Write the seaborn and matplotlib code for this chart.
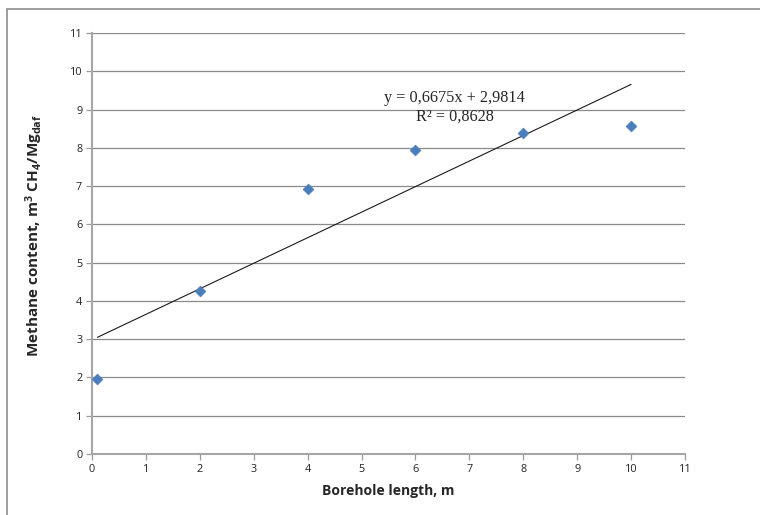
import numpy as np
import pandas as pd
import matplotlib
matplotlib.use("Agg")
import matplotlib.pyplot as plt
import seaborn as sns
from matplotlib.patches import Rectangle

# Data
borehole_length = [0.1, 2, 4, 6, 8, 10]
methane_content = [1.95, 4.25, 6.92, 7.93, 8.38, 8.57]

# Trendline as reported on the chart
slope = 0.6675
intercept = 2.9814
r_squared = "0,8628"
equation_text = "y = 0,6675x + 2,9814\nR² = " + r_squared

x_ticks = list(range(0, 12))
y_ticks = list(range(0, 12))

df = pd.DataFrame({"length": borehole_length, "methane": methane_content})

sns.set_style("white")
plt.rcParams['font.family'] = ['Open Sans', 'DejaVu Sans']
plt.rcParams['mathtext.fontset'] = 'custom'
plt.rcParams['mathtext.rm'] = 'Open Sans:bold'
plt.rcParams['mathtext.it'] = 'Open Sans:bold'
plt.rcParams['mathtext.bf'] = 'Open Sans:bold'

fig = plt.figure(figsize=(7.6, 5.15), dpi=100)
ax = fig.add_axes([92 / 760, 61 / 515, 593 / 760, 421 / 515])

# outer chart frame (cut off at right and bottom)
fig.patches.append(Rectangle((7 / 760, -0.05), 1.1, 1 - 9 / 515 + 0.05,
                             transform=fig.transFigure, fill=False,
                             edgecolor="#8c8c8c", linewidth=1.2))

# horizontal gridlines
for yv in y_ticks[1:]:
    ax.axhline(yv, color="#8a8a8a", linewidth=0.9, zorder=0)

# trendline
x_fit = np.array([min(borehole_length), max(borehole_length)])
ax.plot(x_fit, slope * x_fit + intercept, color="#1a1a1a", linewidth=0.8, zorder=2)

sns.scatterplot(data=df, x="length", y="methane", marker="D", s=30,
                color="#4a7ebb", edgecolor="#4a7ebb", linewidth=0.5, ax=ax, zorder=3)

ax.text(6.73, 9.05, equation_text, ha="center", va="center", multialignment="center",
        fontsize=11.7, family="Liberation Serif", linespacing=1.2)

ax.set_xlim(0, 11)
ax.set_ylim(0, 11)
ax.set_xticks(x_ticks)
ax.set_yticks(y_ticks)
ax.tick_params(axis="both", labelsize=7.8, colors="#333333", length=4,
               width=0.9, direction="out", bottom=True, left=True, pad=3)
for lab in ax.get_xticklabels() + ax.get_yticklabels():
    lab.set_color("#222222")
ax.tick_params(axis="both", color="#9a9a9a")

for side in ["top", "right"]:
    ax.spines[side].set_visible(False)
for side in ["left", "bottom"]:
    ax.spines[side].set_color("#a6a6a6")
    ax.spines[side].set_linewidth(1.5)

ax.set_xlabel("Borehole length, m", fontsize=10, fontweight="bold", labelpad=7)
ax.set_ylabel(r"Methane content, m$^{3}$ CH$_{4}$/Mg$_{daf}$",
              fontsize=11, fontweight="bold")
ax.yaxis.set_label_coords(-0.08, 0.52)

fig.savefig("out.png", dpi=100)
